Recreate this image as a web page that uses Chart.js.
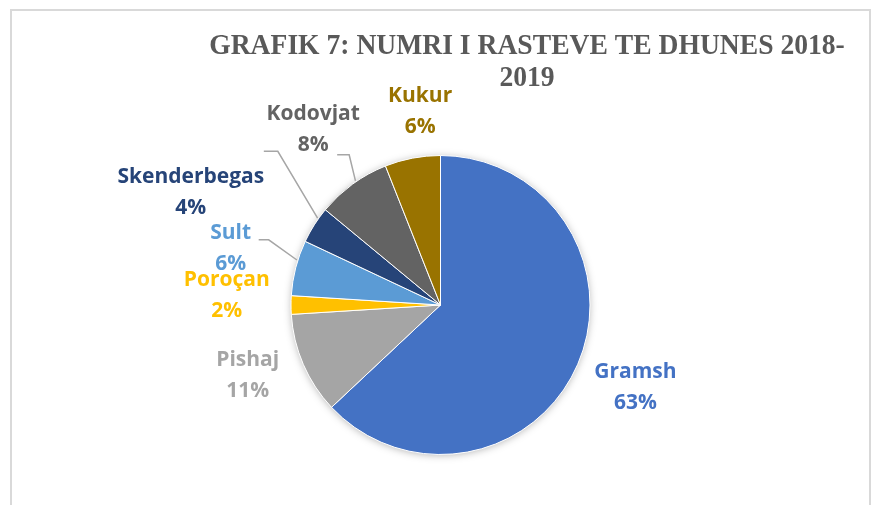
<!DOCTYPE html>
<html>
<head>
<meta charset="utf-8">
<script src="https://cdn.jsdelivr.net/npm/chart.js@4/dist/chart.umd.min.js"></script>
<style>
  html, body { margin: 0; padding: 0; background: #fff; }
  #wrap { position: relative; width: 876px; height: 505px; overflow: hidden; }
  #frame { position: absolute; left: 10px; top: 9px; width: 857px; height: 520px;
           border: 2px solid #d9d9d9; border-bottom: none; }
  #chart { position: absolute; left: 0; top: 0; }
</style>
</head>
<body>
<div id="wrap">
  <div id="frame"></div>
  <canvas id="chart" width="876" height="505"></canvas>
</div>
<script>
// data
const titleLines = ['GRAFIK 7: NUMRI I RASTEVE TE DHUNES 2018-', '2019'];
const categories = ['Gramsh', 'Pishaj', 'Poroçan', 'Sult', 'Skenderbegas', 'Kodovjat', 'Kukur'];
const values = [63, 11, 2, 6, 4, 8, 6];

// styles
const colors = ['#4472c4', '#a5a5a5', '#ffc000', '#5b9bd5', '#264478', '#636363', '#997300'];
// label placement: [radius factor, angle nudge in degrees] from slice middle
const labelPlace = [[1.416, -0.4], [1.374, 3.25], [1.431, 2.67], [1.453, 0.6], [1.831, -8.2], [1.449, 0], [1.304, 4.8]];
// leader lines: index -> [start dx, start dy from label centre, elbow length, end angle nudge]
const leaders = { 3: [28, -9, 10, 3], 4: [73, -41.5, 14, 2.85], 5: [24, 25, 12, 1.6] };

const total = values.reduce((a, b) => a + b, 0);

const decorPlugin = {
    id: 'decor',
    beforeDatasetsDraw(chart) {
        // soft shadow under the pie
        const arc = chart.getDatasetMeta(0).data[0];
        const ctx = chart.ctx;
        ctx.save();
        ctx.shadowColor = 'rgba(0,0,0,0.35)';
        ctx.shadowBlur = 8;
        ctx.shadowOffsetY = 1;
        ctx.beginPath();
        ctx.arc(arc.x, arc.y, arc.outerRadius - 1, 0, Math.PI * 2);
        ctx.fillStyle = '#fff';
        ctx.fill();
        ctx.restore();
    },
    afterDraw(chart) {
        const ctx = chart.ctx;
        ctx.save();

        // title (slightly condensed serif, like the original)
        ctx.fillStyle = '#595959';
        ctx.font = 'bold 30px "Liberation Serif", "Times New Roman", serif';
        ctx.textAlign = 'center';
        ctx.textBaseline = 'middle';
        titleLines.forEach((t, i) => {
            ctx.save();
            ctx.translate(527, 46 + i * 32);
            ctx.scale(0.92, 1);
            ctx.fillText(t, 0, 0);
            ctx.restore();
        });

        // labels + leader lines
        const meta = chart.getDatasetMeta(0);
        meta.data.forEach((arc, i) => {
            const mid = (arc.startAngle + arc.endAngle) / 2;
            const r = arc.outerRadius;
            const a = mid + labelPlace[i][1] * Math.PI / 180;
            const lx = arc.x + Math.cos(a) * r * labelPlace[i][0];
            const ly = arc.y + Math.sin(a) * r * labelPlace[i][0];

            ctx.fillStyle = colors[i];
            ctx.font = 'bold 21px "Open Sans", sans-serif';
            ctx.textAlign = 'center';
            ctx.textBaseline = 'middle';
            ctx.fillText(categories[i], lx, ly - 15.5);
            ctx.fillText(Math.round(values[i] / total * 100) + '%', lx, ly + 15.5);

            const ld = leaders[i];
            if (ld) {
                const sx = lx + ld[0], sy = ly + ld[1];
                const ea = mid + ld[3] * Math.PI / 180;
                ctx.beginPath();
                ctx.moveTo(sx, sy);
                ctx.lineTo(sx + ld[2], sy);
                ctx.lineTo(arc.x + Math.cos(ea) * (r + 1), arc.y + Math.sin(ea) * (r + 1));
                ctx.strokeStyle = '#a6a6a6';
                ctx.lineWidth = 1.5;
                ctx.stroke();
            }
        });
        ctx.restore();
    }
};

new Chart(document.getElementById('chart'), {
    type: 'pie',
    data: {
        labels: categories,
        datasets: [{
            data: values,
            backgroundColor: colors,
            borderColor: '#ffffff',
            borderWidth: 1
        }]
    },
    options: {
        responsive: false,
        animation: false,
        layout: { padding: { top: 155, bottom: 50, left: 290, right: 285 } },
        plugins: {
            legend: { display: false },
            tooltip: { enabled: false },
            title: { display: false }
        }
    },
    plugins: [decorPlugin]
});
</script>
</body>
</html>
